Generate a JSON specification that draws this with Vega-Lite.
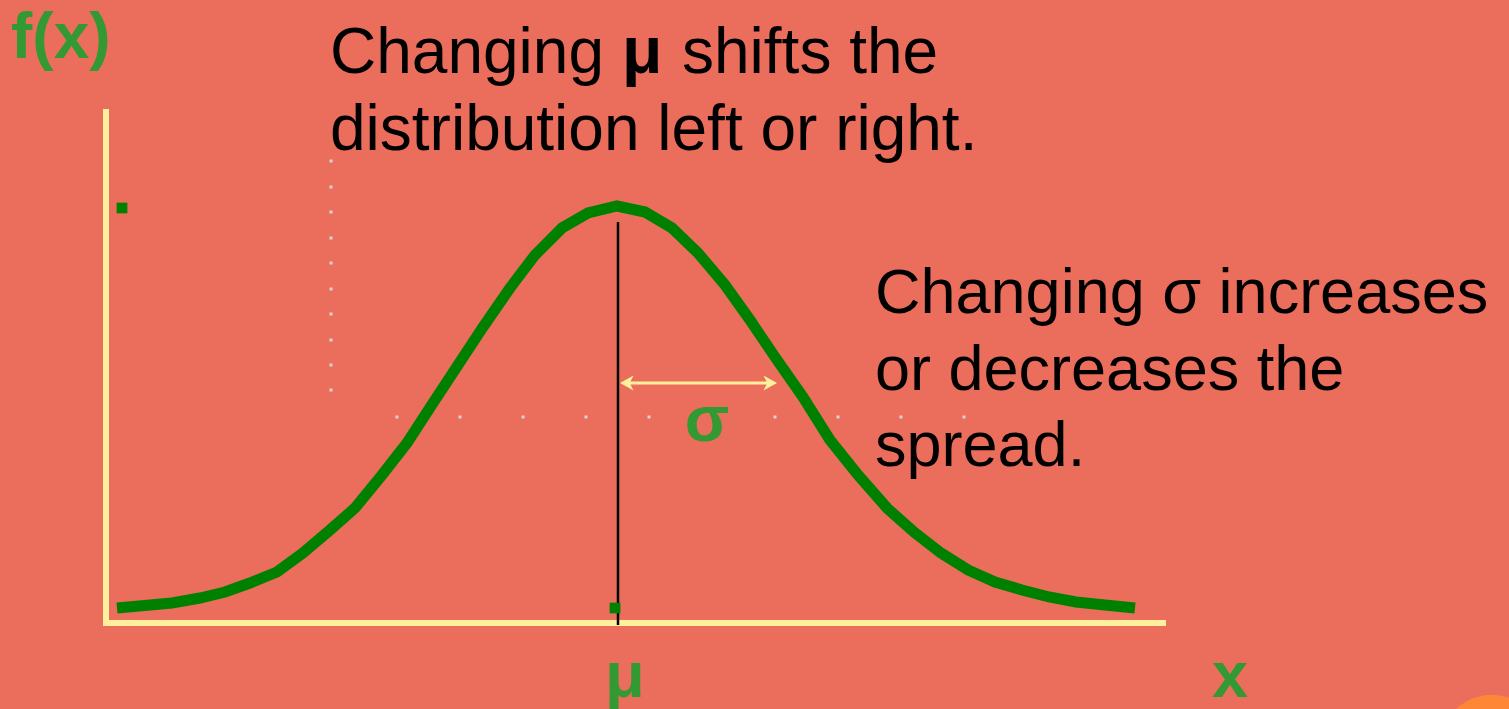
{
  "$schema": "https://vega.github.io/schema/vega-lite/v6.json",
  "width": 1509,
  "height": 709,
  "autosize": {"type": "none"},
  "padding": 0,
  "background": "#EB6D5B",
  "config": {"view": {"stroke": null}, "axis": {"disable": true}},
  "encoding": {
    "x": {"field": "x", "type": "quantitative", "scale": {"domain": [0, 1509], "nice": false, "zero": false}, "axis": null},
    "y": {"field": "y", "type": "quantitative", "scale": {"domain": [0, 709], "nice": false, "zero": false}, "axis": null}
  },
  "layer": [
    {
      "data": {"values": [{"x": 1492, "y": -38}]},
      "mark": {"type": "point", "shape": "circle", "filled": true, "size": 10936, "color": "#FE8637", "opacity": 1}
    },
    {
      "data": {"values": [
        {"x": 106, "y": 600, "x2": 106, "y2": 83},
        {"x": 103, "y": 86, "x2": 1166, "y2": 86}
      ]},
      "mark": {"type": "rule", "color": "#FFF09E", "strokeWidth": 6, "strokeCap": "butt"},
      "encoding": {"x2": {"field": "x2"}, "y2": {"field": "y2"}}
    },
    {
      "data": {"values": [
        {"x": 331, "y": 548}, {"x": 331, "y": 522}, {"x": 331, "y": 497}, {"x": 331, "y": 471}, {"x": 331, "y": 446},
        {"x": 331, "y": 420}, {"x": 331, "y": 395}, {"x": 331, "y": 369}, {"x": 331, "y": 344}, {"x": 331, "y": 319},
        {"x": 397, "y": 292}, {"x": 460, "y": 292}, {"x": 523, "y": 292}, {"x": 586, "y": 292}, {"x": 649, "y": 292},
        {"x": 775, "y": 292}, {"x": 838, "y": 292}, {"x": 901, "y": 292}, {"x": 964, "y": 292}
      ]},
      "mark": {"type": "point", "shape": "square", "filled": true, "size": 9, "color": "#D6D6D6", "opacity": 1}
    },
    {
      "data": {"values": [
        {"x": 117, "y": 101}, {"x": 172, "y": 106}, {"x": 200, "y": 111}, {"x": 225, "y": 117}, {"x": 250, "y": 126},
        {"x": 277, "y": 137}, {"x": 303, "y": 156}, {"x": 330, "y": 179}, {"x": 355, "y": 201}, {"x": 382, "y": 234},
        {"x": 407, "y": 266}, {"x": 433, "y": 306}, {"x": 458, "y": 344}, {"x": 483, "y": 382}, {"x": 510, "y": 421},
        {"x": 535, "y": 454}, {"x": 562, "y": 481}, {"x": 588, "y": 496}, {"x": 617, "y": 503}, {"x": 645, "y": 497},
        {"x": 672, "y": 481}, {"x": 698, "y": 456}, {"x": 725, "y": 424}, {"x": 750, "y": 389}, {"x": 775, "y": 352},
        {"x": 803, "y": 312}, {"x": 830, "y": 269}, {"x": 858, "y": 234}, {"x": 887, "y": 201}, {"x": 914, "y": 177},
        {"x": 941, "y": 156}, {"x": 968, "y": 139}, {"x": 995, "y": 127}, {"x": 1022, "y": 119}, {"x": 1049, "y": 112},
        {"x": 1076, "y": 107}, {"x": 1105, "y": 104}, {"x": 1135, "y": 101}
      ]},
      "mark": {"type": "line", "color": "#008000", "strokeWidth": 11, "strokeCap": "butt", "strokeJoin": "miter"},
      "encoding": {"order": {"field": "x", "type": "quantitative"}}
    },
    {
      "data": {"values": [{"x": 618, "y": 487, "y2": 84}]},
      "mark": {"type": "rule", "color": "#000000", "strokeWidth": 2.5, "strokeCap": "butt"},
      "encoding": {"y2": {"field": "y2"}}
    },
    {
      "data": {"values": [{"x": 122, "y": 501}, {"x": 615, "y": 101}]},
      "mark": {"type": "point", "shape": "square", "filled": true, "size": 115, "color": "#008000", "opacity": 1}
    },
    {
      "data": {"values": [{"x": 626, "y": 326, "x2": 771}]},
      "mark": {"type": "rule", "color": "#FFF09E", "strokeWidth": 3},
      "encoding": {"x2": {"field": "x2"}}
    },
    {
      "data": {"values": [{"x": 627.5, "y": 326}]},
      "mark": {"type": "point", "shape": "M-1,0 L0.8,-1 L0.3,0 L0.8,1 Z", "filled": true, "size": 225, "color": "#FFF09E", "opacity": 1}
    },
    {
      "data": {"values": [{"x": 769.5, "y": 326}]},
      "mark": {"type": "point", "shape": "M1,0 L-0.8,-1 L-0.3,0 L-0.8,1 Z", "filled": true, "size": 225, "color": "#FFF09E", "opacity": 1}
    },
    {
      "data": {"values": [
        {"x": 330, "y": 636, "t": "Changing"},
        {"x": 682, "y": 636, "t": "shifts the"},
        {"x": 330, "y": 559, "t": "distribution left or right."}
      ]},
      "mark": {"type": "text", "align": "left", "baseline": "alphabetic", "font": "Liberation Sans", "fontSize": 64, "color": "#000000"},
      "encoding": {"text": {"field": "t"}}
    },
    {
      "data": {"values": [
        {"x": 875, "y": 396, "t": "Changing σ increases"},
        {"x": 875, "y": 319, "t": "or decreases the"},
        {"x": 875, "y": 243, "t": "spread."}
      ]},
      "mark": {"type": "text", "align": "left", "baseline": "alphabetic", "font": "Liberation Sans", "fontSize": 63, "color": "#000000"},
      "encoding": {"text": {"field": "t"}}
    },
    {
      "data": {"values": [{"x": 622, "y": 636, "t": "μ"}]},
      "mark": {"type": "text", "align": "left", "baseline": "alphabetic", "font": "Liberation Sans", "fontWeight": "bold", "fontSize": 66, "color": "#000000"},
      "encoding": {"text": {"field": "t"}}
    },
    {
      "data": {"values": [{"x": 11, "y": 651, "t": "f(x)"}]},
      "mark": {"type": "text", "align": "left", "baseline": "alphabetic", "font": "Liberation Sans", "fontWeight": "bold", "fontSize": 64, "color": "#339933"},
      "encoding": {"text": {"field": "t"}}
    },
    {
      "data": {"values": [
        {"x": 707, "y": 268, "t": "σ"},
        {"x": 625, "y": 12, "t": "μ"},
        {"x": 1230, "y": 12, "t": "x"}
      ]},
      "mark": {"type": "text", "align": "center", "baseline": "alphabetic", "font": "Liberation Sans", "fontWeight": "bold", "fontSize": 65, "color": "#339933"},
      "encoding": {"text": {"field": "t"}}
    }
  ]
}
